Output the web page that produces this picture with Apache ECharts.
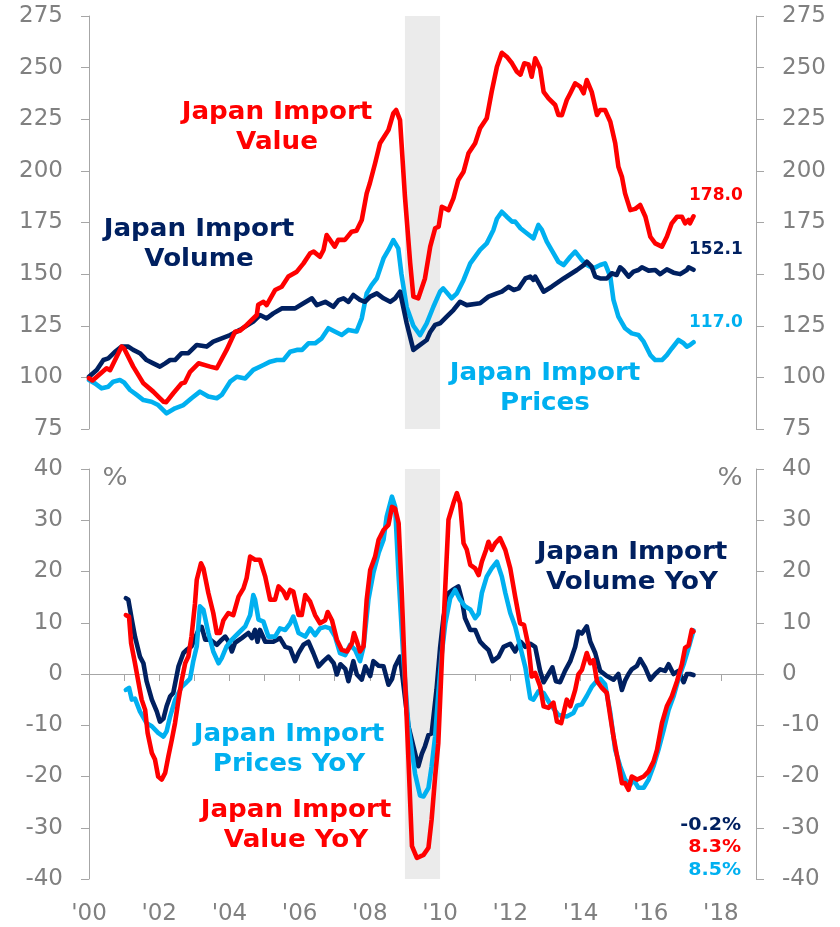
<!DOCTYPE html>
<html>
<head>
<meta charset="utf-8">
<script src="https://cdn.jsdelivr.net/npm/echarts@6/dist/echarts.min.js"></script>
<style>
  html, body { margin: 0; padding: 0; background: #fff; }
  #chart { width: 840px; height: 927px; }
</style>
</head>
<body>
<div id="chart"></div>
<script>
// shaded period (years)
const recession = [2009, 2010]

// index levels, 2000 = 100  [year, value]
const valueIdx = [[2000.0,99.6],[2000.1,98.5],[2000.5,104.4],[2000.6,103.5],[2000.93,114.9],[2001.0,114],[2001.26,105.2],[2001.55,97.1],[2001.83,93.1],[2001.98,90.6],[2002.12,88.2],[2002.2,88],[2002.4,92.3],[2002.64,97.1],[2002.73,97.5],[2002.88,102.7],[2003.12,106.8],[2003.45,105.2],[2003.64,104.4],[2003.92,113.3],[2004.16,122.1],[2004.3,122.6],[2004.49,125.4],[2004.78,130.2],[2004.82,135.2],[2004.97,136.6],[2005.06,135],[2005.3,142.3],[2005.49,143.9],[2005.68,148.8],[2005.92,151.2],[2006.11,155.2],[2006.3,160.1],[2006.4,160.9],[2006.58,158.4],[2006.68,161.7],[2006.77,168.9],[2006.82,169.8],[2007.0,163.3],[2007.1,166.6],[2007.29,166.6],[2007.48,170.5],[2007.62,171],[2007.77,176.2],[2007.91,189.1],[2008.0,194],[2008.15,203.7],[2008.29,213.4],[2008.53,219.8],[2008.67,227.9],[2008.75,229.5],[2008.86,224.6],[2009.0,187.5],[2009.15,155.2],[2009.24,139.1],[2009.38,138.3],[2009.57,147.9],[2009.72,163.3],[2009.86,172.2],[2009.96,173],[2010.05,182.6],[2010.24,181],[2010.38,186.7],[2010.52,195.6],[2010.67,199.6],[2010.81,208.5],[2011.0,213.4],[2011.14,220.6],[2011.33,225.5],[2011.47,238.3],[2011.62,250.4],[2011.76,257.2],[2011.9,255.3],[2012.05,252.1],[2012.19,248],[2012.29,246.6],[2012.4,252.1],[2012.52,251.5],[2012.61,245.6],[2012.71,254.5],[2012.85,249.7],[2012.95,238.3],[2013.09,235.1],[2013.28,231.9],[2013.37,227.1],[2013.47,227],[2013.61,234.3],[2013.71,237.6],[2013.85,242.4],[2013.99,240.8],[2014.09,237.6],[2014.18,244],[2014.32,238.3],[2014.47,227.1],[2014.56,229.5],[2014.7,229.5],[2014.85,223.8],[2014.99,213.4],[2015.08,202],[2015.18,197.2],[2015.27,189.1],[2015.42,181],[2015.56,181.6],[2015.7,183.5],[2015.85,177.8],[2015.99,168.1],[2016.13,164.9],[2016.32,163.3],[2016.46,168.1],[2016.6,174.6],[2016.75,177.8],[2016.89,177.8],[2016.98,174.6],[2017.08,176.2],[2017.12,174.6],[2017.22,178.0]]

const volumeIdx = [[2000.0,100.3],[2000.22,103.6],[2000.41,108.4],[2000.55,109.2],[2000.74,112.4],[2000.93,114.9],[2001.12,114.9],[2001.26,113.3],[2001.45,111.7],[2001.64,108.4],[2001.83,106.8],[2002.02,105.2],[2002.17,106.8],[2002.31,108.4],[2002.45,108.4],[2002.64,111.7],[2002.83,111.7],[2003.07,115.7],[2003.35,114.9],[2003.54,117.3],[2003.78,118.9],[2004.02,120.5],[2004.3,123],[2004.68,127],[2004.87,130.2],[2005.06,128.6],[2005.25,131],[2005.49,133.4],[2005.87,133.4],[2006.11,135.9],[2006.35,138.3],[2006.49,135],[2006.73,136.6],[2006.96,134.2],[2007.11,137.4],[2007.25,138.3],[2007.39,136.6],[2007.53,139.9],[2007.72,137.5],[2007.86,136.6],[2008.01,139.1],[2008.2,140.7],[2008.39,138.3],[2008.58,136.6],[2008.72,138.3],[2008.86,141.5],[2009.05,126.2],[2009.24,113.3],[2009.43,115.7],[2009.62,118.1],[2009.72,122],[2009.86,125.4],[2010.0,126.2],[2010.19,129.4],[2010.38,132.6],[2010.57,136.6],[2010.76,135],[2011.14,135.9],[2011.38,139.1],[2011.62,140.7],[2011.76,141.5],[2011.95,143.9],[2012.1,142.3],[2012.24,143.1],[2012.43,147.9],[2012.57,148.8],[2012.66,147.2],[2012.71,148.8],[2012.95,141.5],[2013.18,143.9],[2013.52,147.9],[2013.9,152],[2014.09,154.4],[2014.18,156],[2014.32,153.6],[2014.42,148.8],[2014.56,147.9],[2014.75,147.9],[2014.89,150.4],[2015.03,149.6],[2015.13,153.3],[2015.22,152],[2015.37,148.8],[2015.51,151.2],[2015.65,152],[2015.75,153.3],[2015.94,151.7],[2016.13,152],[2016.27,150],[2016.46,152.3],[2016.65,150.7],[2016.84,150],[2017.03,152],[2017.08,153.3],[2017.22,152.1]]

const pricesIdx = [[2000.0,98.7],[2000.17,97.1],[2000.36,94.7],[2000.55,95.5],[2000.69,97.9],[2000.88,98.7],[2001.0,97.5],[2001.17,93.9],[2001.36,91.5],[2001.55,89],[2001.78,88.2],[2001.97,86.6],[2002.21,82.6],[2002.45,85],[2002.69,86.6],[2002.92,89.9],[2003.16,93.1],[2003.4,90.7],[2003.64,89.9],[2003.78,91.5],[2004.02,97.9],[2004.21,100.3],[2004.45,99.5],[2004.68,103.6],[2004.97,106],[2005.16,107.6],[2005.35,108.4],[2005.54,108.4],[2005.73,112.4],[2005.92,113.3],[2006.07,113.3],[2006.25,116.5],[2006.44,116.5],[2006.63,118.9],[2006.82,123.8],[2007.0,122.2],[2007.2,120.5],[2007.39,123],[2007.62,122.2],[2007.77,128.6],[2007.91,140.7],[2008.05,144.7],[2008.2,148],[2008.39,157.6],[2008.53,161.7],[2008.67,166.5],[2008.81,162.5],[2008.9,150],[2009.05,134],[2009.24,125],[2009.43,120.5],[2009.62,126.2],[2009.81,134.2],[2010.0,141.5],[2010.09,143.1],[2010.33,138.3],[2010.48,140.7],[2010.67,147.2],[2010.86,155.2],[2011.14,161.7],[2011.33,164.9],[2011.52,171.4],[2011.62,176.8],[2011.76,180.2],[2011.9,177.8],[2012.05,175.4],[2012.14,175.4],[2012.29,172.2],[2012.47,169.8],[2012.66,167.3],[2012.8,173.8],[2012.9,171.4],[2013.04,165.7],[2013.2,161],[2013.37,156],[2013.52,154.4],[2013.71,158.4],[2013.85,160.9],[2014.04,156.8],[2014.18,154.4],[2014.37,152.8],[2014.56,154.4],[2014.7,155.2],[2014.85,148.8],[2014.94,137.5],[2015.08,129.4],[2015.27,123.8],[2015.46,121.3],[2015.65,120.5],[2015.8,117.3],[2015.99,110.8],[2016.13,108.4],[2016.32,108.4],[2016.46,110.8],[2016.6,114],[2016.79,118.1],[2016.94,116.5],[2017.03,114.9],[2017.12,115.7],[2017.22,117.0]]

// year-on-year changes, %  [year, value]
const volumeYoY = [[2001.05,14.8],[2001.12,14.5],[2001.22,10.6],[2001.31,7.3],[2001.45,3.4],[2001.55,2.1],[2001.64,-1.4],[2001.79,-5],[2001.93,-7.3],[2002.02,-9.3],[2002.12,-8.7],[2002.21,-6.3],[2002.31,-4.4],[2002.4,-3.7],[2002.55,1.5],[2002.69,4.1],[2002.78,4.7],[2002.92,5.4],[2003.12,8.6],[2003.21,9.2],[2003.31,6.7],[2003.45,6.7],[2003.64,5.7],[2003.78,6.7],[2003.88,7.3],[2003.97,6.4],[2004.07,4.4],[2004.16,6.1],[2004.35,7],[2004.54,8],[2004.64,7],[2004.73,8.6],[2004.8,6.3],[2004.87,8.6],[2005.02,6.3],[2005.25,6.3],[2005.44,7],[2005.59,5.3],[2005.73,5],[2005.87,2.5],[2005.97,4.1],[2006.11,5.7],[2006.25,6.3],[2006.39,4.1],[2006.54,1.5],[2006.68,2.5],[2006.82,3.4],[2006.97,2.1],[2007.06,-0.1],[2007.16,1.9],[2007.3,1],[2007.39,-1.4],[2007.53,2.5],[2007.63,-0.1],[2007.77,-1.1],[2007.87,1.5],[2008.01,-0.4],[2008.1,2.5],[2008.25,1.6],[2008.39,1.5],[2008.53,-2.1],[2008.63,-1],[2008.72,1.5],[2008.86,3.4],[2009.1,-10.2],[2009.38,-18],[2009.48,-15.6],[2009.57,-14.1],[2009.67,-11.9],[2009.76,-11.6],[2009.9,-3],[2010.0,5],[2010.1,11.2],[2010.24,15.8],[2010.38,16.5],[2010.52,17.1],[2010.62,14.5],[2010.71,10.9],[2010.86,8.6],[2011.0,8.6],[2011.14,6.3],[2011.28,5.3],[2011.38,4.7],[2011.5,2.5],[2011.67,3.4],[2011.81,5.3],[2012.0,5.9],[2012.14,4.4],[2012.29,6.3],[2012.43,5.3],[2012.57,5.9],[2012.71,5.3],[2012.85,0.6],[2012.95,-1.6],[2013.09,0],[2013.2,1.3],[2013.3,-1.4],[2013.42,-1.6],[2013.56,0.6],[2013.71,2.5],[2013.85,5.3],[2013.94,8.3],[2014.04,7.9],[2014.18,9.3],[2014.28,6.3],[2014.42,4.1],[2014.56,0.6],[2014.75,-0.4],[2014.94,-1.1],[2015.08,0],[2015.18,-3.1],[2015.27,-1.3],[2015.37,0],[2015.46,0.9],[2015.61,1.6],[2015.7,2.9],[2015.84,1.3],[2015.99,-1.1],[2016.13,0],[2016.27,0.9],[2016.41,0.6],[2016.51,1.9],[2016.65,0],[2016.79,0.6],[2016.94,-1.6],[2017.03,0],[2017.12,0],[2017.22,-0.2]]

const pricesYoY = [[2001.05,-3.1],[2001.14,-2.7],[2001.22,-5],[2001.31,-4.8],[2001.45,-7.3],[2001.64,-9.6],[2001.79,-10.2],[2001.97,-11.5],[2002.12,-12.2],[2002.21,-11.2],[2002.31,-8.3],[2002.45,-5.1],[2002.64,-2.5],[2002.78,-1.6],[2002.88,-0.9],[2002.97,2.5],[2003.07,5.4],[2003.16,13.2],[2003.26,12.5],[2003.4,8],[2003.54,4.4],[2003.69,2.1],[2003.78,3.1],[2003.92,5.4],[2004.07,6.7],[2004.26,8],[2004.45,9.3],[2004.59,11.5],[2004.68,15.4],[2004.73,14.5],[2004.83,10.6],[2004.97,10.2],[2005.11,7.3],[2005.3,7.3],[2005.44,8.9],[2005.59,8.6],[2005.73,9.9],[2005.82,11.2],[2005.97,8],[2006.16,7.3],[2006.3,8.9],[2006.44,7.6],[2006.58,8.9],[2006.73,9.2],[2006.87,8.9],[2007.01,7.3],[2007.15,4.1],[2007.3,3.7],[2007.44,5.7],[2007.58,4.7],[2007.72,2.5],[2007.82,5.3],[2007.96,14.5],[2008.1,19.7],[2008.25,23.6],[2008.39,26.2],[2008.48,30.7],[2008.63,34.6],[2008.72,32.7],[2008.82,19],[2008.96,2.5],[2009.1,-10.2],[2009.29,-19.5],[2009.43,-23.7],[2009.53,-23.9],[2009.67,-22.2],[2009.76,-18],[2009.86,-12.2],[2009.95,-3.8],[2010.05,4.1],[2010.15,9.9],[2010.29,14.8],[2010.43,16.4],[2010.57,14.5],[2010.71,13.2],[2010.86,12.6],[2011.0,10.9],[2011.1,11.8],[2011.19,15.8],[2011.33,19],[2011.47,20.6],[2011.62,21.9],[2011.76,19],[2011.86,15.8],[2012.0,11.9],[2012.14,9.3],[2012.28,5.4],[2012.43,1.3],[2012.57,-4.7],[2012.66,-5],[2012.8,-3.4],[2012.95,-3.7],[2013.14,-5.9],[2013.37,-8],[2013.61,-8.3],[2013.8,-7.6],[2013.9,-6.2],[2014.04,-5.9],[2014.18,-4.3],[2014.32,-2.5],[2014.47,-1.3],[2014.56,-0.9],[2014.7,-2],[2014.85,-7.6],[2014.99,-14.8],[2015.13,-18],[2015.27,-20.6],[2015.42,-21.6],[2015.51,-20.6],[2015.65,-22.2],[2015.8,-22.2],[2015.94,-20.6],[2016.08,-18],[2016.22,-14.8],[2016.37,-10.9],[2016.51,-7],[2016.65,-4.4],[2016.79,-1],[2016.94,1.9],[2017.08,5.1],[2017.22,8.5]]

const valueYoY = [[2001.05,11.5],[2001.14,11.2],[2001.2,6],[2001.31,2.1],[2001.4,-1.3],[2001.5,-5],[2001.6,-7],[2001.67,-11.5],[2001.79,-15.4],[2001.88,-16.7],[2001.97,-20],[2002.07,-20.6],[2002.17,-19.3],[2002.26,-16.1],[2002.36,-12.8],[2002.45,-9.6],[2002.55,-5],[2002.64,-1.3],[2002.74,2.1],[2002.83,3.4],[2002.92,7.3],[2003.02,13.8],[2003.07,18.4],[2003.19,21.6],[2003.26,20.6],[2003.4,15.8],[2003.54,11.9],[2003.64,8],[2003.73,8],[2003.83,10.5],[2003.97,11.9],[2004.11,11.5],[2004.26,15.1],[2004.4,16.7],[2004.49,18.7],[2004.59,22.9],[2004.73,22.3],[2004.87,22.3],[2005.02,19],[2005.16,14.5],[2005.3,14.5],[2005.4,17.1],[2005.54,16.1],[2005.63,14.8],[2005.73,16.4],[2005.82,16.1],[2005.97,11.5],[2006.06,11.5],[2006.16,15.4],[2006.3,14.1],[2006.44,11.5],[2006.58,9.9],[2006.73,10.5],[2006.8,12.1],[2006.92,10.5],[2007.06,6.7],[2007.2,4.7],[2007.35,4.4],[2007.49,6],[2007.55,8],[2007.63,6.4],[2007.72,4.4],[2007.82,5.4],[2007.91,14.5],[2008.01,20.3],[2008.15,22.9],[2008.25,26.2],[2008.39,28.1],[2008.53,29.1],[2008.63,32.6],[2008.72,32.3],[2008.82,29.4],[2008.91,15.8],[2009.0,-0.5],[2009.1,-16.7],[2009.2,-33.6],[2009.34,-35.9],[2009.53,-35.3],[2009.67,-33.9],[2009.76,-28.4],[2009.86,-20],[2009.95,-13.5],[2010.05,2.5],[2010.15,17.1],[2010.24,30.1],[2010.38,33.3],[2010.48,35.3],[2010.57,33.3],[2010.67,25.5],[2010.76,24.3],[2010.86,21.3],[2011.0,20.6],[2011.1,19.3],[2011.19,21.9],[2011.31,24.2],[2011.38,25.8],[2011.47,24.2],[2011.57,25.5],[2011.71,26.5],[2011.86,24.2],[2012.0,20.6],[2012.14,15.1],[2012.28,9.9],[2012.39,9.6],[2012.52,5.4],[2012.61,-0.5],[2012.71,0.2],[2012.85,-2.4],[2012.95,-6.3],[2013.09,-6.6],[2013.23,-5.6],[2013.33,-9.3],[2013.45,-9.6],[2013.61,-5],[2013.71,-6.3],[2013.85,-3.1],[2013.94,-0.1],[2014.04,0.8],[2014.18,4.1],[2014.28,2.1],[2014.37,2.7],[2014.47,-1.4],[2014.61,-2.7],[2014.75,-3.7],[2014.85,-8.3],[2014.94,-12.2],[2015.08,-17.4],[2015.18,-21.3],[2015.27,-21.3],[2015.37,-22.6],[2015.46,-20],[2015.61,-20.6],[2015.8,-20],[2015.94,-19],[2016.08,-17.1],[2016.18,-14.8],[2016.32,-9.6],[2016.46,-6.3],[2016.6,-4.4],[2016.75,-1.4],[2016.89,1.9],[2016.98,5.1],[2017.08,5.6],[2017.17,8.6],[2017.22,8.3]]

// colours
const RED = '#FF0000'
const NAVY = '#002060'
const BLUE = '#00B0F0'
const GREY = '#808080'
const AXIS = '#A6A6A6'
const FONT = 'DejaVu Sans'

const yAxisStyle = (gridIndex, position, min, max, interval) => ({
  type: 'value',
  gridIndex,
  position,
  min,
  max,
  interval,
  axisLine: { show: true, lineStyle: { color: AXIS, width: 1 } },
  axisTick: { show: true, length: 8, lineStyle: { color: AXIS } },
  splitLine: { show: false },
  axisLabel: { color: GREY, fontSize: 23, fontFamily: FONT, margin: 26 }
})

const lineSeries = (data, color, xAxisIndex, yAxisIndex, z) => ({
  type: 'line',
  data,
  xAxisIndex,
  yAxisIndex,
  z,
  symbol: 'none',
  showSymbol: false,
  lineStyle: { color, width: 4.6, join: 'round', cap: 'round' },
  itemStyle: { color }
})

const bandSeries = (xAxisIndex, yAxisIndex) => ({
  type: 'line',
  data: [],
  xAxisIndex,
  yAxisIndex,
  z: 1,
  markArea: {
    silent: true,
    itemStyle: { color: '#EBEBEB' },
    data: [[{ xAxis: recession[0] }, { xAxis: recession[1] }]]
  }
})

// bold annotation; the source font is a wide Verdana-like face, so stretch a little
const txt = (text, x, y, color, size, align, stretch) => ({
  type: 'text',
  x,
  y,
  z: 100,
  scaleX: stretch || 1,
  style: {
    text,
    fill: color,
    fontSize: size,
    fontWeight: 'bold',
    fontFamily: FONT,
    align: align || 'center',
    verticalAlign: 'middle',
    lineHeight: 30
  }
})

const chart = echarts.init(document.getElementById('chart'))

chart.setOption({
  animation: false,
  backgroundColor: '#fff',
  grid: [
    { left: 89, right: 84, top: 16, height: 413 },
    { left: 89, right: 84, top: 469, height: 410 }
  ],
  xAxis: [
    { type: 'value', gridIndex: 0, min: 2000, max: 2019, show: false },
    {
      type: 'value',
      gridIndex: 1,
      min: 2000,
      max: 2019,
      interval: 1,
      position: 'bottom',
      axisLine: { show: true, onZero: true, lineStyle: { color: AXIS, width: 1 } },
      axisTick: { show: true, length: 7, lineStyle: { color: AXIS } },
      axisLabel: { show: false },
      splitLine: { show: false }
    },
    {
      type: 'value',
      gridIndex: 1,
      min: 2000,
      max: 2019,
      interval: 1,
      position: 'bottom',
      axisLine: { show: false, onZero: false },
      axisTick: { show: false },
      splitLine: { show: false },
      axisLabel: {
        color: GREY,
        fontSize: 23,
        fontFamily: FONT,
        margin: 24,
        formatter: (v) => (v % 2 === 0 ? "'" + String(v).slice(2) : '')
      }
    }
  ],
  yAxis: [
    yAxisStyle(0, 'left', 75, 275, 25),
    yAxisStyle(0, 'right', 75, 275, 25),
    yAxisStyle(1, 'left', -40, 40, 10),
    yAxisStyle(1, 'right', -40, 40, 10)
  ],
  series: [
    bandSeries(0, 0),
    lineSeries(pricesIdx, BLUE, 0, 0, 3),
    lineSeries(volumeIdx, NAVY, 0, 0, 4),
    lineSeries(valueIdx, RED, 0, 0, 5),
    bandSeries(1, 2),
    lineSeries(volumeYoY, NAVY, 1, 2, 3),
    lineSeries(pricesYoY, BLUE, 1, 2, 4),
    lineSeries(valueYoY, RED, 1, 2, 5)
  ],
  graphic: [
    txt('Japan Import\nValue', 277, 128, RED, 24, 'center', 1.09),
    txt('Japan Import\nVolume', 199, 245, NAVY, 24, 'center', 1.09),
    txt('Japan Import\nPrices', 545, 389, BLUE, 24, 'center', 1.09),
    txt('Japan Import\nVolume YoY', 632, 568, NAVY, 24, 'center', 1.09),
    txt('Japan Import\nPrices YoY', 289, 750, BLUE, 24, 'center', 1.09),
    txt('Japan Import\nValue YoY', 296, 826, RED, 24, 'center', 1.09),
    txt('178.0', 689, 196, RED, 17, 'left'),
    txt('152.1', 689, 250, NAVY, 17, 'left'),
    txt('117.0', 689, 323, BLUE, 17, 'left'),
    txt('-0.2%', 741, 826, NAVY, 17, 'right', 1.12),
    txt('8.3%', 741, 848, RED, 17, 'right', 1.12),
    txt('8.5%', 741, 871, BLUE, 17, 'right', 1.12),
    {
      type: 'text', x: 115, y: 479, scaleX: 1.1,
      style: { text: '%', fill: GREY, fontSize: 24, fontFamily: FONT, align: 'center', verticalAlign: 'middle' }
    },
    {
      type: 'text', x: 730, y: 479, scaleX: 1.1,
      style: { text: '%', fill: GREY, fontSize: 24, fontFamily: FONT, align: 'center', verticalAlign: 'middle' }
    }
  ]
})
</script>
</body>
</html>
